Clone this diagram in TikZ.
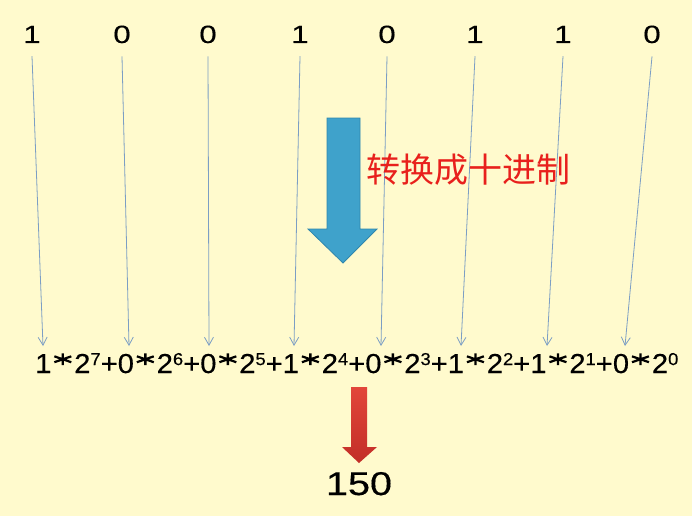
\documentclass[tikz,border=0pt]{standalone}
\usepackage{fontspec}
\setmainfont[FakeBold=0.35]{Liberation Sans}
\newfontfamily\cjk{Noto Sans CJK SC}
\usetikzlibrary{arrows.meta}
\definecolor{bg}{HTML}{FFFACD}
\definecolor{conncol}{HTML}{7C9EC4}
\definecolor{bluefill}{HTML}{3FA2CB}
\definecolor{blueedge}{HTML}{2F86AD}
\definecolor{redtop}{HTML}{E2463A}
\definecolor{redbot}{HTML}{C22E28}
\definecolor{cnred}{HTML}{E8201C}
\newcommand\pwr[1]{\raisebox{2.9pt}{\fontsize{6.3}{7}\selectfont #1}}
\newcommand\mul{\hspace{0.6pt}\raisebox{0pt}[0pt][0pt]{\tikz[x=1pt,y=1pt,baseline=0pt]{\draw[line width=0.8pt,black,line cap=butt] (2.9,2.86)--(2.9,7.16) (0,3.935)--(5.8,6.085) (0,6.085)--(5.8,3.935);}}\hspace{0.6pt}}
\tikzset{
  bit/.style={inner xsep=0pt, inner ysep=13pt, anchor=base, font=\fontsize{25}{30}\selectfont},
  conn/.style={draw=conncol, line width=0.8pt, -{Straight Barb[length=8pt,width=9pt,line width=0.8pt]}},
  bigarrow/.style={fill=bluefill, draw=blueedge, line width=0.8pt},
  redarrow/.style={top color=redtop, bottom color=redbot, draw=none},
}
\begin{document}
\begin{tikzpicture}[x=1pt,y=-1pt]
\fill[bg] (0,0) rectangle (692,516);
\useasboundingbox (0,0) rectangle (692,516);

% top bits
\foreach \n/\x/\b in {1/32/1,2/122/0,3/208/0,4/300/1,5/387/0,6/475/1,7/563/1,8/652/0}{
  \node[bit] (d\n) at (\x,43) {\scalebox{1.25}[1]{\b}};
}

% arrow tips
\coordinate (t1) at (43,346);
\coordinate (t2) at (129,346);
\coordinate (t3) at (209,346);
\coordinate (t4) at (294,346);
\coordinate (t5) at (381,346);
\coordinate (t6) at (461,346);
\coordinate (t7) at (547,346);
\coordinate (t8) at (625,346);

\foreach \n in {1,...,8}{
  \draw[conn] (d\n.south) -- (t\n);
}

% big blue arrow
\filldraw[bigarrow] (327,118) -- (360,118) -- (360,229) -- (377,229) -- (343,263) -- (308,229) -- (327,229) -- cycle;

% label
\node[text=cnred, font=\cjk\fontsize{34}{40}\selectfont, inner sep=0] (lbl) at (468,170) {转换成十进制};

% formula
\node[anchor=base west, inner sep=0] (f) at (35,373) {\resizebox{643pt}{20pt}{\fontsize{10}{12}\selectfont 1\mul2\pwr{7}+0\mul2\pwr{6}+0\mul2\pwr{5}+1\mul2\pwr{4}+0\mul2\pwr{3}+1\mul2\pwr{2}+1\mul2\pwr{1}+0\mul2\pwr{0}}};

% red arrow
\path[redarrow] (351,387) -- (367,387) -- (367,447) -- (377,447) -- (359,463) -- (342,447) -- (351,447) -- cycle;

% result
\node[anchor=base, inner sep=0] (r) at (359,495) {\resizebox{66pt}{23pt}{\fontsize{10}{12}\selectfont 150}};
\end{tikzpicture}
\end{document}
